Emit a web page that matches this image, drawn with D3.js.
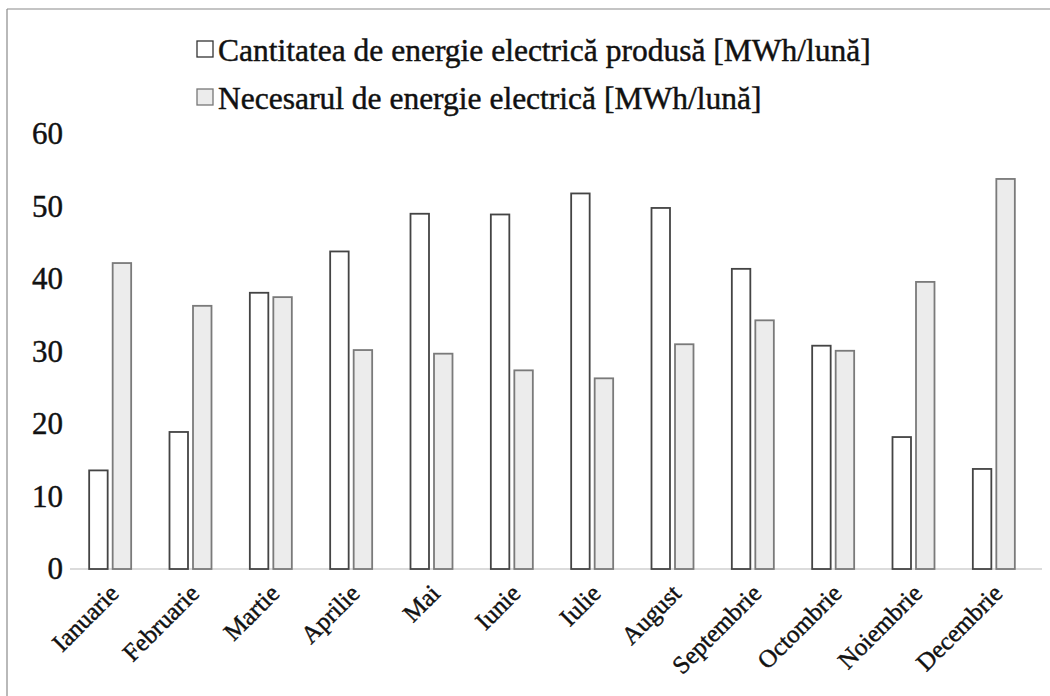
<!DOCTYPE html>
<html>
<head>
<meta charset="utf-8">
<script src="https://cdn.jsdelivr.net/npm/d3@7"></script>
<style>
  html, body { margin: 0; padding: 0; background: #fff; }
  svg { display: block; }
</style>
</head>
<body>
<svg id="chart" width="1050" height="696"></svg>
<script>
// Monthly electricity: production vs. demand [MWh/lună]
const months = ["Ianuarie", "Februarie", "Martie", "Aprilie", "Mai", "Iunie",
                "Iulie", "August", "Septembrie", "Octombrie", "Noiembrie", "Decembrie"];
const produced = [13.6, 18.9, 38.1, 43.8, 49.0, 48.9, 51.8, 49.8, 41.4, 30.8, 18.2, 13.8];
const demand   = [42.2, 36.3, 37.5, 30.2, 29.7, 27.4, 26.3, 31.0, 34.3, 30.1, 39.6, 53.8];
const seriesNames = ["Cantitatea de energie electrică produsă [MWh/lună]",
                     "Necesarul de energie electrică [MWh/lună]"];
const yTicks = [0, 10, 20, 30, 40, 50, 60];

const FONT = "'Liberation Serif', 'Times New Roman', Times, serif";
const INK = "#111";
const seriesStyle = [
  { fill: "#ffffff", stroke: "#444" },
  { fill: "#ececec", stroke: "#7a7a7a" }
];

const svg = d3.select("#chart");

// page frame lines (top and left edges)
svg.append("line").attr("x1", 7).attr("x2", 1050).attr("y1", 9).attr("y2", 9)
  .attr("stroke", "#8a8a8a").attr("stroke-width", 1.2);
svg.append("line").attr("x1", 7).attr("x2", 7).attr("y1", 9).attr("y2", 696)
  .attr("stroke", "#8a8a8a").attr("stroke-width", 1.2);

const plot = { left: 70, right: 1034, top: 134, bottom: 569 };

const x = d3.scaleBand().domain(months).range([plot.left, plot.right]).padding(0);
const groupWidth = 42;
const x1 = d3.scaleBand().domain([0, 1])
  .range([x.bandwidth() / 2 - groupWidth / 2, x.bandwidth() / 2 + groupWidth / 2])
  .paddingInner(0.213);
const y = d3.scaleLinear().domain([0, 60]).range([plot.bottom, plot.top]);

// heavier ink for printed-looking text
function ink(sel, size) {
  sel.attr("font-size", size)
    .attr("fill", INK)
    .attr("stroke", INK)
    .attr("stroke-width", 0.45)
    .style("font-family", FONT);
}

// y axis: labels only
const yAxis = d3.axisLeft(y).tickValues(yTicks).tickSize(0).tickPadding(0);
const gy = svg.append("g").attr("transform", `translate(63,0)`).call(yAxis);
gy.select(".domain").remove();
gy.selectAll("text").call(ink, 31);

// baseline
svg.append("line").attr("x1", plot.left).attr("x2", plot.right + 8)
  .attr("y1", y(0)).attr("y2", y(0))
  .attr("stroke", "#cfcfcf").attr("stroke-width", 1.5);

// bars
const rows = months.map((m, i) => ({ month: m, values: [produced[i], demand[i]] }));
const groups = svg.append("g").selectAll("g").data(rows).join("g")
  .attr("transform", d => `translate(${x(d.month)},0)`);
groups.selectAll("rect")
  .data(d => d.values.map((v, k) => ({ k, v })))
  .join("rect")
  .attr("x", d => x1(d.k))
  .attr("width", x1.bandwidth())
  .attr("y", d => y(d.v))
  .attr("height", d => y(0) - y(d.v))
  .attr("fill", d => seriesStyle[d.k].fill)
  .attr("stroke", d => seriesStyle[d.k].stroke)
  .attr("stroke-width", 1.8);

// x axis labels, rotated
const xAxis = d3.axisBottom(x).tickSize(0).tickPadding(0);
const gx = svg.append("g").attr("transform", `translate(0,${y(0)})`).call(xAxis);
gx.select(".domain").remove();
gx.selectAll(".tick text")
  .call(ink, 25)
  .attr("text-anchor", "end")
  .attr("dy", 0).attr("y", 0)
  .attr("transform", "translate(10,26) rotate(-45)");

// legend
const legend = svg.append("g").selectAll("g").data(seriesNames).join("g")
  .attr("transform", (d, i) => `translate(197,${41 + i * 48})`);
legend.append("rect")
  .attr("width", 16).attr("height", 16)
  .attr("fill", (d, i) => seriesStyle[i].fill)
  .attr("stroke", (d, i) => i === 0 ? "#333" : "#777")
  .attr("stroke-width", 1.3);
legend.append("text")
  .attr("x", 21).attr("y", 20)
  .call(ink, 31.5)
  .text(d => d);
</script>
</body>
</html>
